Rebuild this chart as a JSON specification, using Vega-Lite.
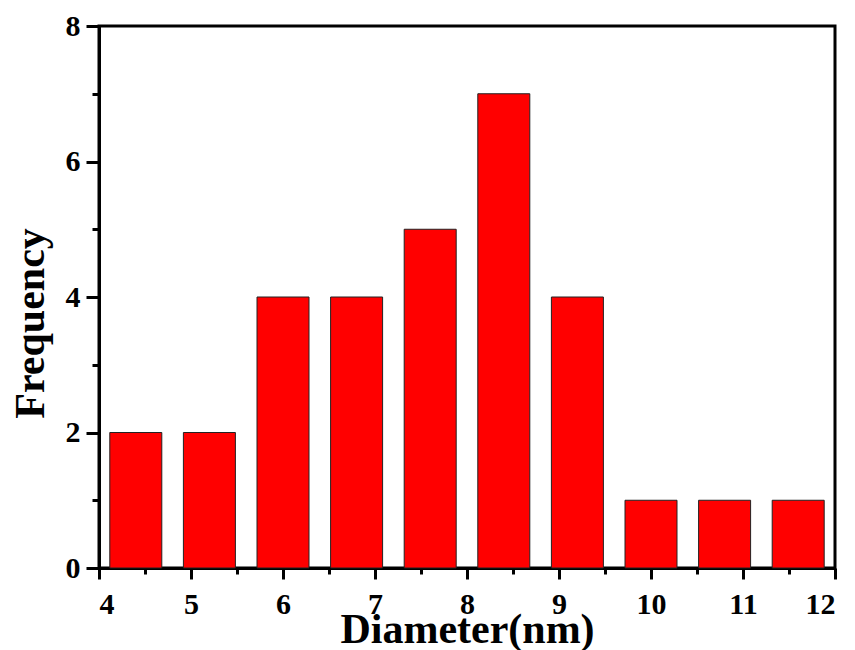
{
  "$schema": "https://vega.github.io/schema/vega-lite/v6.json",
  "width": 736,
  "height": 542,
  "autosize": {"type": "none"},
  "padding": {"left": 99, "top": 26, "right": 20, "bottom": 82},
  "background": "white",
  "config": {
    "view": {"stroke": "black", "strokeWidth": 3},
    "axis": {
      "grid": false,
      "domainColor": "black",
      "domainWidth": 3,
      "tickColor": "black",
      "tickWidth": 3,
      "labelFont": "Liberation Serif",
      "labelFontWeight": "bold",
      "labelFontSize": 30,
      "labelColor": "black",
      "titleFont": "Liberation Serif",
      "titleFontWeight": "bold",
      "titleFontSize": 42,
      "titleColor": "black"
    }
  },
  "data": {
    "values": [
      {"diameter": 4.4, "frequency": 2},
      {"diameter": 5.2, "frequency": 2},
      {"diameter": 6.0, "frequency": 4},
      {"diameter": 6.8, "frequency": 4},
      {"diameter": 7.6, "frequency": 5},
      {"diameter": 8.4, "frequency": 7},
      {"diameter": 9.2, "frequency": 4},
      {"diameter": 10.0, "frequency": 1},
      {"diameter": 10.8, "frequency": 1},
      {"diameter": 11.6, "frequency": 1}
    ]
  },
  "layer": [
    {
      "mark": {"type": "bar", "size": 52, "fill": "#ff0000", "stroke": "#222222", "strokeWidth": 1},
      "encoding": {
        "x": {
          "field": "diameter", "type": "quantitative",
          "scale": {"domain": [4, 12], "nice": false, "zero": false, "padding": 0},
          "axis": {
            "orient": "bottom",
            "values": [4, 5, 6, 7, 8, 9, 10, 11, 12],
            "tickSize": 11,
            "labelBaseline": "alphabetic",
            "labelPadding": 34,
            "title": "Diameter(nm)",
            "titleBaseline": "alphabetic",
            "titleY": 74
          }
        },
        "y": {
          "field": "frequency", "type": "quantitative",
          "scale": {"domain": [0, 8], "nice": false},
          "axis": {
            "orient": "left",
            "values": [0, 2, 4, 6, 8],
            "tickSize": 13,
            "labelPadding": 6,
            "title": "Frequency",
            "titleAngle": -90,
            "titleAlign": "center",
            "titleBaseline": "alphabetic",
            "titleX": -56,
            "titleY": 297
          }
        }
      }
    },
    {
      "mark": {"type": "bar", "size": 52, "opacity": 0},
      "encoding": {
        "x": {
          "field": "diameter", "type": "quantitative",
          "scale": {"domain": [4, 12], "nice": false, "zero": false, "padding": 0},
          "axis": {
            "orient": "bottom",
            "values": [4.5, 5.5, 6.5, 7.5, 8.5, 9.5, 10.5, 11.5],
            "tickSize": 6,
            "labels": false,
            "domain": false,
            "title": null
          }
        },
        "y": {
          "field": "frequency", "type": "quantitative",
          "scale": {"domain": [0, 8], "nice": false},
          "axis": {
            "orient": "left",
            "values": [1, 3, 5, 7],
            "tickSize": 7,
            "labels": false,
            "domain": false,
            "title": null
          }
        }
      }
    }
  ],
  "resolve": {"axis": {"x": "independent", "y": "independent"}}
}
